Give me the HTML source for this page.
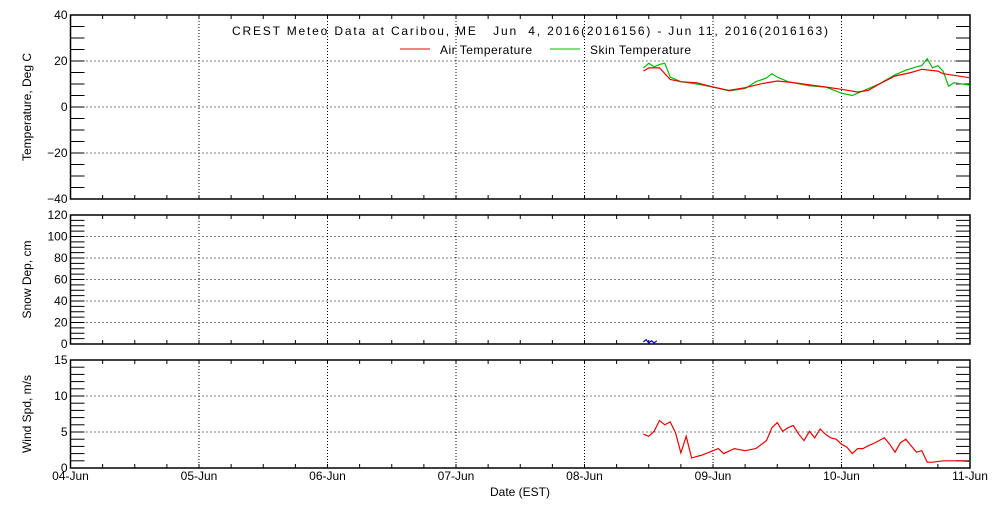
<!DOCTYPE html>
<html><head><meta charset="utf-8"><style>
body{margin:0;background:#fff;}
svg text{font-family:"Liberation Sans",sans-serif;font-size:12px;fill:#000;}
</style></head><body>
<svg id="c" width="1000" height="500" xmlns="http://www.w3.org/2000/svg">
<text x="232" y="35" font-size="13" textLength="596" lengthAdjust="spacing" xml:space="preserve">CREST Meteo Data at Caribou, ME   Jun  4, 2016(2016156) - Jun 11, 2016(2016163)</text>
<g>
<line x1="400" y1="49" x2="430" y2="49" stroke="#e00"/>
<text x="440" y="54" textLength="92">Air Temperature</text>
<line x1="550" y1="49" x2="580" y2="49" stroke="#0b0"/>
<text x="590" y="54" textLength="101">Skin Temperature</text>
</g>
</svg>
<script>
const dayLabels=["04-Jun","05-Jun","06-Jun","07-Jun","08-Jun","09-Jun","10-Jun","11-Jun"];
const airT=[107,108,110,112,114,117,120,123,126,129,132,135,138,141,144,147,149,151,154,157,159,162,163,168];
const airV=[15.6,17,17,12,11,10.5,8.7,7.2,8.4,10.1,11.3,10.6,9.6,8.7,7.7,6.5,7.2,9.9,13.5,15,16.4,15.6,14.5,12.7];
const skinT=[107,108,109,110,111,112,114,117,120,123,126,128,130,131,132,134,138,141,144,146,148,151,154,156,158,159,160,161,162,163,164,165,168];
const skinV=[17,19,17.5,18.5,19,13,11,10,8.7,7,8,11,12.6,14.5,13,11,9.2,8.7,6,5,7,10,14,16,17.5,18,21,17,18,15.5,9,10.5,9.5];
const snowT=[107,107.5,108,108.5,109,109.5];
const snowV=[2,4,1,3,1,3];
const windT=[107,108,109,110,111,112,113,114,115,116,118,120,121,122,124,126,128,130,131,132,133,134,135,136,137,138,139,140,141,142,143,144,145,146,147,148,149,150,151,152,153,154,155,156,157,158,159,160,161,163,166,168];
const windV=[4.7,4.4,5.1,6.6,6.0,6.4,4.9,2.1,4.4,1.4,1.8,2.4,2.7,2.0,2.7,2.4,2.7,3.8,5.6,6.3,5.1,5.6,5.9,4.7,3.8,5.1,4.2,5.4,4.7,4.2,4.0,3.3,2.9,2.0,2.7,2.7,3.1,3.4,3.8,4.2,3.3,2.2,3.5,4.0,3.1,2.2,2.4,0.8,0.8,1.0,1.0,0.9];

const S=document.getElementById('c'),NS='http://www.w3.org/2000/svg';
const X0=70.5,X1=970;
const xs=t=>X0+(X1-X0)*t/168;
function el(tag,a,p){const e=document.createElementNS(NS,tag);for(const k in a)e.setAttribute(k,a[k]);(p||S).appendChild(e);return e;}
const panels=[
 {name:'temperature',top:15,bot:199,min:-40,max:40,major:20,minor:5,label:'Temperature, Deg C',grid:[-20,0,20]},
 {name:'snow-depth',top:215,bot:344,min:0,max:120,major:20,minor:5,label:'Snow Dep, cm',grid:[20,40,60,80,100]},
 {name:'wind-speed',top:360,bot:468,min:0,max:15,major:5,minor:1,label:'Wind Spd, m/s',grid:[5,10]}
];
panels.forEach((p,pi)=>{
 const g=el('g',{});
 
 
 p.ys=v=>p.bot-(p.bot-p.top)*(v-p.min)/(p.max-p.min);
 p.grid.forEach(v=>{const l=el('line',{x1:X0,x2:X1,y1:p.ys(v),y2:p.ys(v),stroke:'#000','stroke-dasharray':'1,3'},g);
  });
 for(let d=1;d<7;d++){const l=el('line',{x1:xs(d*24),x2:xs(d*24),y1:p.top,y2:p.bot,stroke:'#000','stroke-dasharray':'1,2'},g);
  }
 for(let v=p.min;v<=p.max;v+=p.minor){const y=p.ys(v);
  el('line',{x1:X0,x2:X0+14,y1:y,y2:y,stroke:'#000'},g);
  el('line',{x1:X1-14,x2:X1,y1:y,y2:y,stroke:'#000'},g);}
 for(let h=0;h<=168;h+=6){const x=xs(h);
  el('line',{x1:x,x2:x,y1:p.bot,y2:p.bot-4,stroke:'#000'},g);
  el('line',{x1:x,x2:x,y1:p.top,y2:p.top+4,stroke:'#000'},g);}
 for(let v=p.min;v<=p.max;v+=p.major){const t=el('text',{x:X0-3,y:p.ys(v)+4,'text-anchor':'end'},g);t.textContent=String(v).replace('-','\u2212');
  }
 const cy=(p.top+p.bot)/2;
 const at=el('text',{x:0,y:0,'text-anchor':'middle',transform:`translate(31,${cy}) rotate(-90)`},g);at.textContent=p.label;
 
 el('rect',{x:X0,y:p.top,width:X1-X0,height:p.bot-p.top,fill:'none',stroke:'#000','stroke-width':1.5},g);
});
function series(T,V,p,color,name){
 const d=T.map((t,i)=>(i?'L':'M')+xs(t).toFixed(1)+','+p.ys(V[i]).toFixed(1)).join('');
 const e=el('path',{d:d,fill:'none',stroke:color,'stroke-width':1.2});
 
 
}
series(skinT,skinV,panels[0],'#0b0','skin-temperature-line');
series(airT,airV,panels[0],'#e00','air-temperature-line');
series(snowT,snowV,panels[1],'#00c','snow-depth-line');
series(windT,windV,panels[2],'#e00','wind-speed-line');
dayLabels.forEach((lb,i)=>{const t=el('text',{x:xs(i*24),y:480,'text-anchor':'middle'});t.textContent=lb;
 });
const xt=el('text',{x:520,y:496,'text-anchor':'middle'});xt.textContent='Date (EST)';

</script>
</body></html>
